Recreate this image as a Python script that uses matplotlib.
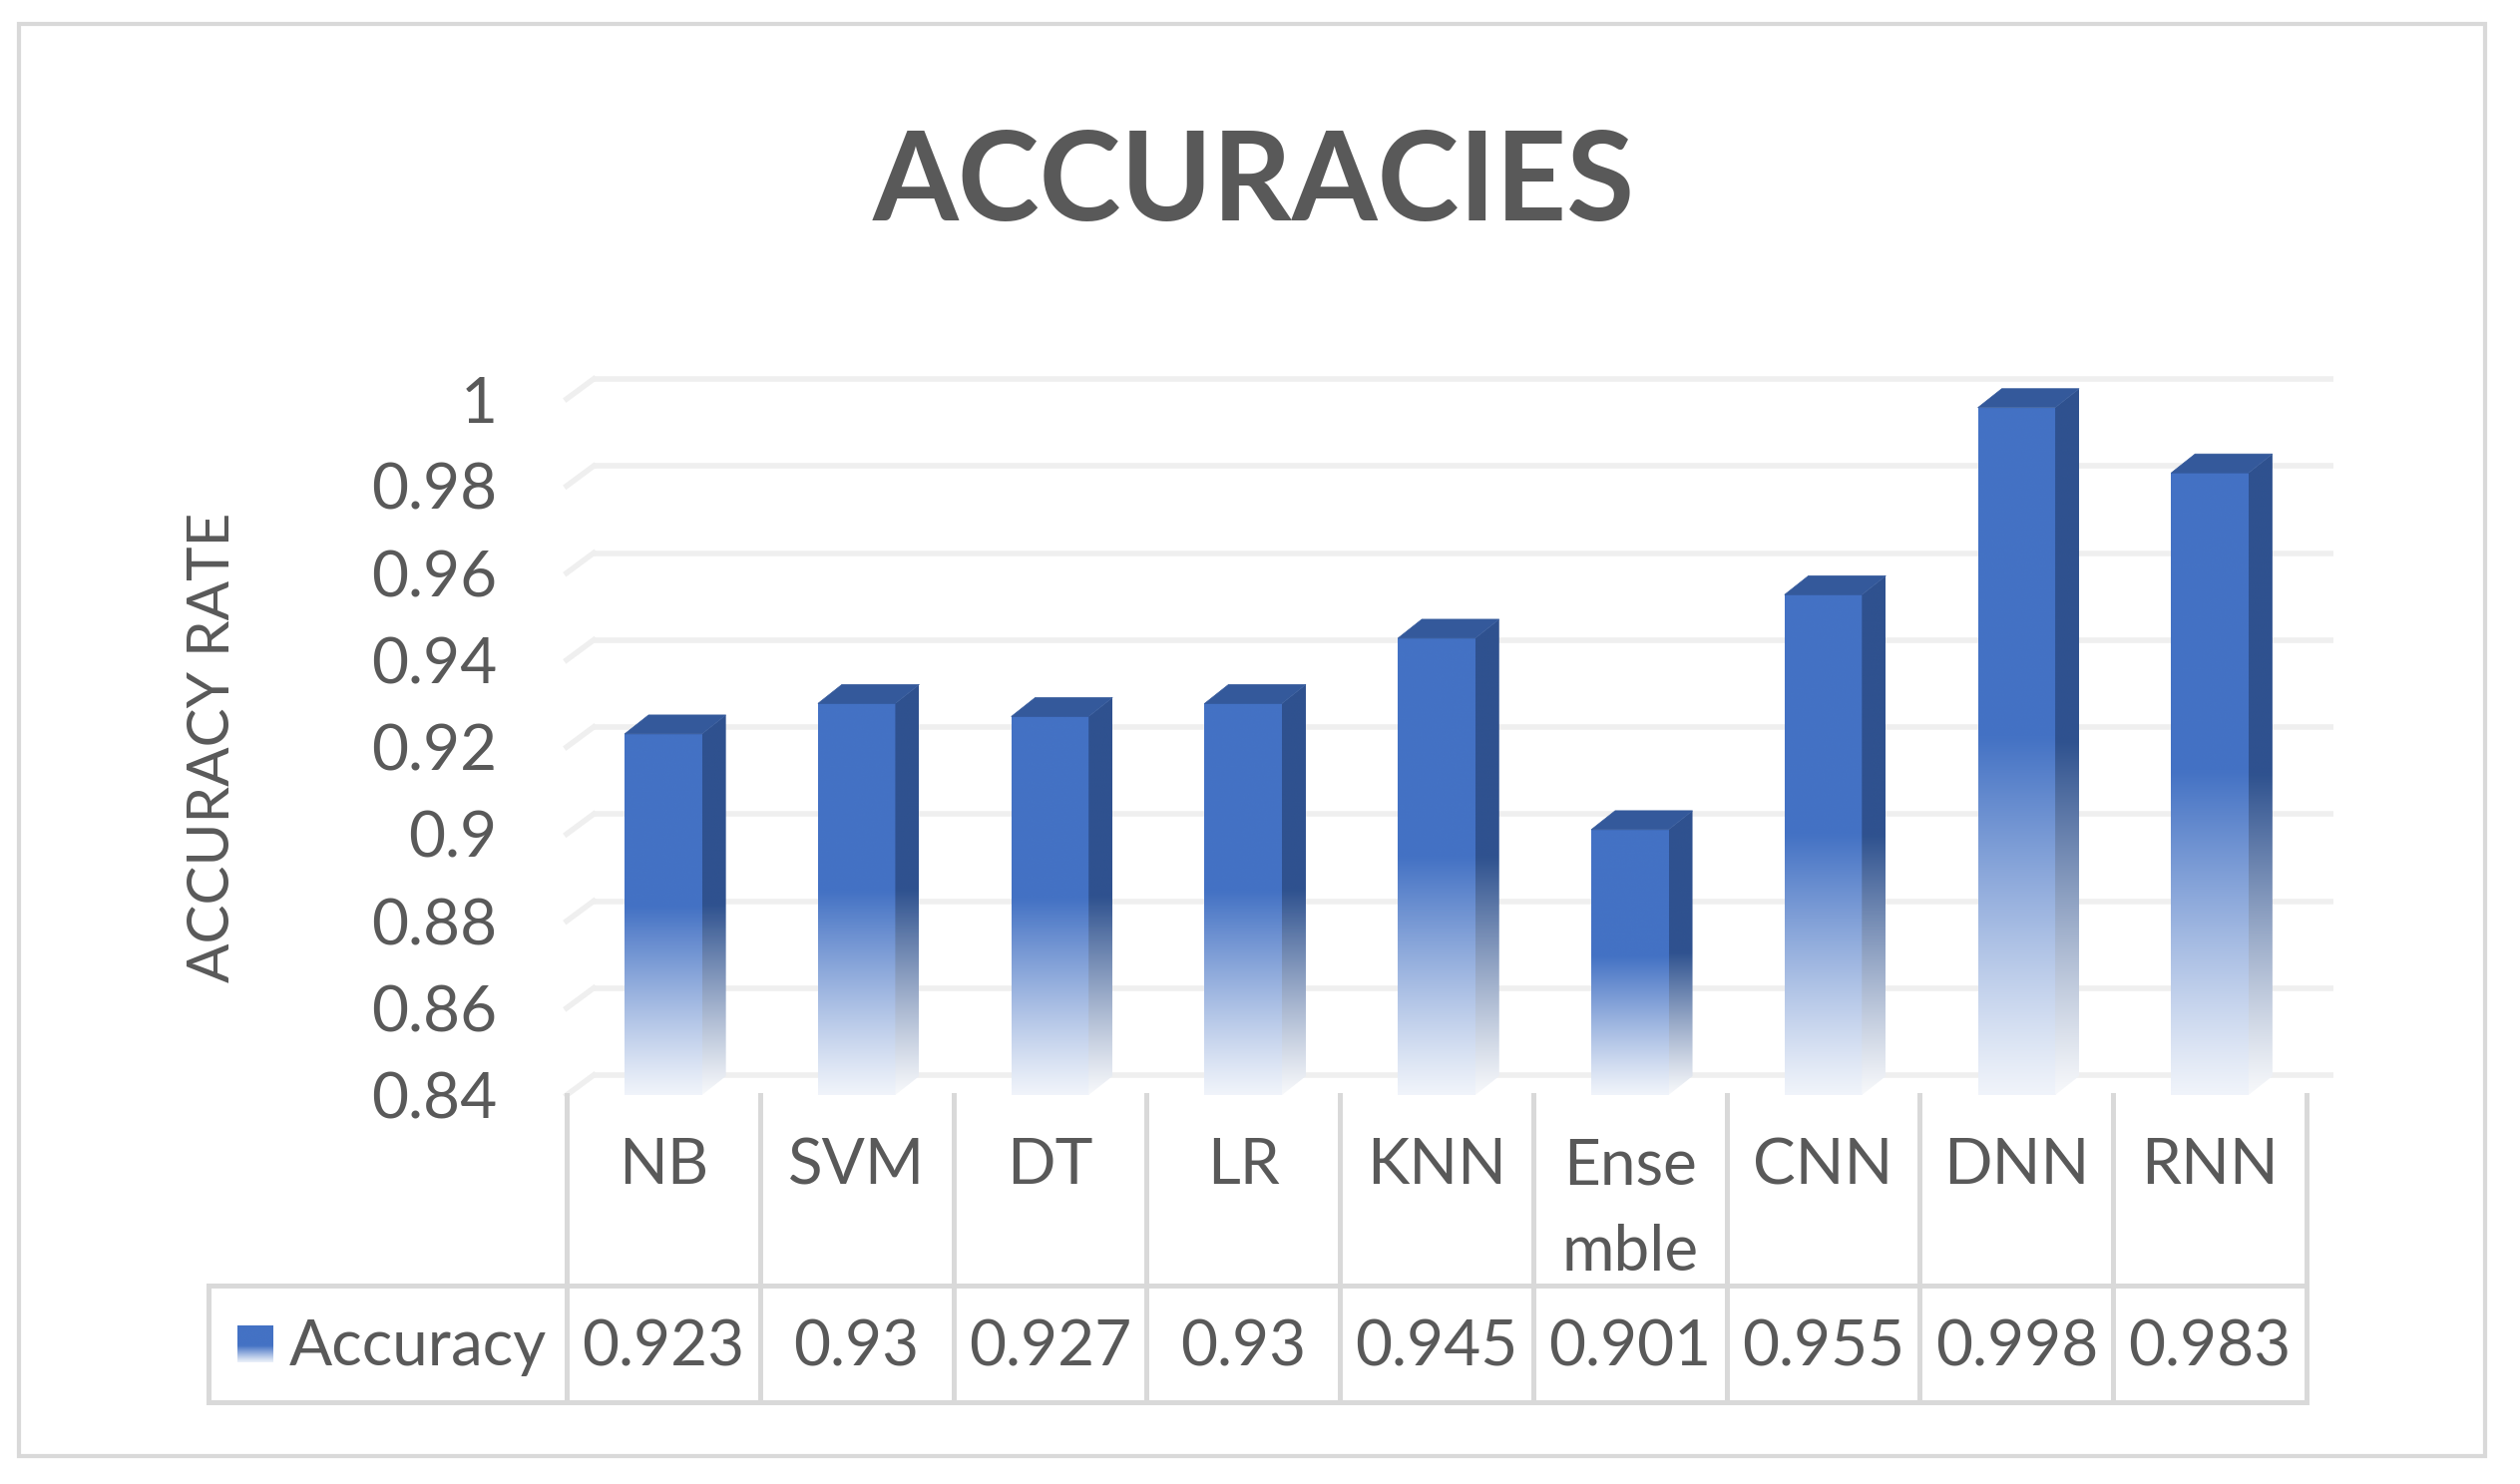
import numpy as np
import matplotlib
matplotlib.use("Agg")
import matplotlib.pyplot as plt
from matplotlib.patches import Polygon, Rectangle
from matplotlib.lines import Line2D
from matplotlib.colors import to_rgb
from matplotlib.transforms import blended_transform_factory

# data
models = ["NB", "SVM", "DT", "LR", "KNN", "Ense\nmble", "CNN", "DNN", "RNN"]
accuracy = [0.923, 0.93, 0.927, 0.93, 0.945, 0.901, 0.955, 0.998, 0.983]
value_labels = ["0.923", "0.93", "0.927", "0.93", "0.945", "0.901", "0.955", "0.998", "0.983"]
y_ticks = [0.84, 0.86, 0.88, 0.90, 0.92, 0.94, 0.96, 0.98, 1.0]
y_tick_labels = ["0.84", "0.86", "0.88", "0.9", "0.92", "0.94", "0.96", "0.98", "1"]
series_name = "Accuracy"

W, H, DPI = 2526, 1488, 100
TEXT = "#595959"
GRID = "#EFEFEF"
LINE = "#D9D9D9"
FRONT = "#4472C4"
SIDE = "#2F528F"
TOP = "#34599B"
FONT = "Lato"

plt.rcParams["font.family"] = [FONT, "DejaVu Sans"]

fig = plt.figure(figsize=(W / DPI, H / DPI), dpi=DPI)
ax = fig.add_axes([568 / W, 1 - 1098 / H, (2312 - 568) / W, (1098 - 400) / H])
ax.set_xlim(-0.5, len(models) - 0.5)
ax.set_ylim(0.84, 1.0)
ax.set_autoscale_on(False)
ax.patch.set_alpha(0)
for s in ax.spines.values():
    s.set_visible(False)
ax.set_xticks([])
ax.set_yticks(y_ticks, y_tick_labels)
ax.tick_params(axis="y", length=0, pad=50, labelsize=46, labelcolor=TEXT)

# depth of the fake 3d view, pixels -> data units
bbox = ax.get_window_extent()
px_x = (ax.get_xlim()[1] - ax.get_xlim()[0]) / bbox.width
px_y = (ax.get_ylim()[1] - ax.get_ylim()[0]) / bbox.height
wall_dx, wall_dy = 27 * px_x, 20 * px_y
bar_dx, bar_dy = 24 * px_x, 19 * px_y

# back wall gridlines and left wall edges
x_lo, x_hi = ax.get_xlim()
for t in y_ticks:
    ax.add_line(Line2D([x_lo + wall_dx, x_hi + wall_dx], [t + wall_dy, t + wall_dy],
                       color=GRID, lw=4, clip_on=False, zorder=1, solid_capstyle="butt"))
    ax.add_line(Line2D([x_lo, x_lo + wall_dx], [t, t + wall_dy],
                       color=GRID, lw=4, clip_on=False, zorder=1))


def fade(color, n=300, solid=0.52, floor=0.08):
    t = np.linspace(0, 1, n)
    a = floor + (1 - floor) * np.clip(t / solid, 0, 1) ** 1.1
    rgb = np.array(to_rgb(color))
    col = 1 - (1 - rgb)[None, :] * a[:, None]
    return col[:, None, :]


bw = 0.4
base = 0.84
for i, v in enumerate(accuracy):
    x0, x1 = i - bw / 2, i + bw / 2
    # front face
    front = Rectangle((x0, base), bw, v - base, transform=ax.transData, fc="none", ec="none")
    ax.add_patch(front)
    im = ax.imshow(fade(FRONT), extent=(x0, x1, base, v), origin="lower",
                   aspect="auto", interpolation="bilinear", zorder=3)
    im.set_clip_path(front)
    # side face
    side = Polygon([(x1, base), (x1 + bar_dx, base + bar_dy), (x1 + bar_dx, v + bar_dy), (x1, v)],
                   closed=True, fc="none", ec="none", clip_on=False)
    ax.add_patch(side)
    im2 = ax.imshow(fade(SIDE, solid=0.5, floor=0.04), extent=(x1, x1 + bar_dx, base, v + bar_dy),
                    origin="lower", aspect="auto", interpolation="bilinear", zorder=3)
    im2.set_clip_box(fig.bbox)
    im2.set_clip_path(side)
    # top face
    ax.add_patch(Polygon([(x0, v), (x0 + bar_dx, v + bar_dy), (x1 + bar_dx, v + bar_dy), (x1, v)],
                         closed=True, fc=TOP, ec=TOP, lw=0.5, clip_on=False, zorder=4))

# data table under the plot
tr = blended_transform_factory(ax.transData, fig.transFigure)
y_top = ax.get_position().y0
y_mid = 1 - 1289 / H
y_bot = 1 - 1406 / H
legend_left = 209 / W
right = ax.get_position().x1
for k in range(len(models) + 1):
    xb = k - 0.5
    fig.add_artist(Line2D([xb, xb], [y_top, y_bot], transform=tr, color=LINE, lw=3.6))
for yy in (y_mid, y_bot):
    fig.add_artist(Line2D([legend_left, right], [yy, yy], transform=fig.transFigure, color=LINE, lw=3.6))
fig.add_artist(Line2D([legend_left, legend_left], [y_mid, y_bot], transform=fig.transFigure,
                      color=LINE, lw=3.6))

line_gap = 87 / H
for i, name in enumerate(models):
    for j, part in enumerate(name.split("\n")):
        fig.text(i, 1 - 1187 / H - j * line_gap, part, transform=tr, ha="center", va="baseline",
                 fontsize=46, color=TEXT)
    fig.text(i, 1 - 1369 / H, value_labels[i], transform=tr, ha="center", va="baseline",
             fontsize=46, color=TEXT)

# legend key
kax = fig.add_axes([238 / W, 1 - 1366 / H, 36 / W, 37 / H])
kax.imshow(fade(FRONT, solid=0.45, floor=0.1), origin="lower", aspect="auto",
           interpolation="bilinear")
kax.axis("off")
fig.text(290 / W, 1 - 1369 / H, series_name, ha="left", va="baseline", fontsize=46, color=TEXT)

# titles
fig.text(0.4975, 1 - 221 / H, "ACCURACIES", ha="center", va="baseline",
         fontsize=89, fontweight="bold", color=TEXT)
fig.text(214 / W, 1 - 749 / H, "ACCURACY RATE", rotation=90, ha="center", va="center",
         fontsize=42, color=TEXT)

# chart border
fig.add_artist(Rectangle((19 / W, 1 - 1460 / H), (2491 - 19) / W, (1460 - 24) / H,
                         transform=fig.transFigure, fill=False, ec=LINE, lw=3))

fig.savefig("out.png", dpi=DPI)
